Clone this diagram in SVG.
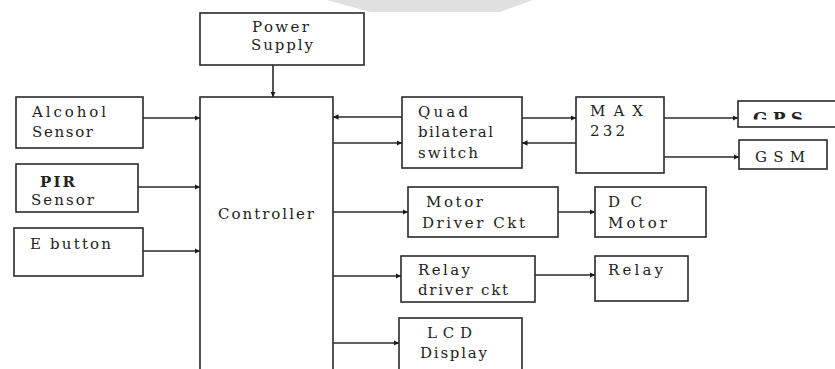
<svg xmlns="http://www.w3.org/2000/svg" width="835" height="369" viewBox="0 0 835 369">
<defs>
<style>
.box{fill:#fff;stroke:#2a2a2a;stroke-width:1.6}
.t{font-family:"DejaVu Serif","Liberation Serif",serif;font-size:15px;fill:#222}
.c line{stroke:#2a2a2a;stroke-width:1.6;marker-end:url(#ah)}
</style>
<marker id="ah" viewBox="0 0 10 10" refX="10" refY="5" markerWidth="5.5" markerHeight="5.5" markerUnits="userSpaceOnUse" orient="auto">
<path d="M0,0 L10,5 L0,10 z" fill="#1a1a1a"/>
</marker>
<clipPath id="gpsclip"><rect x="738" y="100" width="100" height="19.5"/></clipPath>
</defs>
<rect width="835" height="369" fill="#fff"/>
<path d="M327,0 L370,12 L500,12 L533,0 z" fill="#e0e0e0"/>

<g id="power"><rect class="box" x="200" y="13" width="164" height="52"/>
<text class="t" x="252" y="32" textLength="57">Power</text>
<text class="t" x="251" y="50" textLength="62">Supply</text></g>

<g id="alcohol"><rect class="box" x="16" y="97" width="127" height="51"/>
<text class="t" x="32" y="117" textLength="74">Alcohol</text>
<text class="t" x="32" y="137" textLength="61">Sensor</text></g>

<g id="pir"><rect class="box" x="16" y="164" width="122" height="48"/>
<text class="t" x="40" y="187" textLength="35" style="font-weight:bold">PIR</text>
<text class="t" x="31" y="205" textLength="63">Sensor</text></g>

<g id="ebutton"><rect class="box" x="14" y="228" width="129" height="48"/>
<text class="t" x="30" y="249" textLength="81">E button</text></g>

<g id="controller"><rect class="box" x="200" y="97" width="133" height="280"/>
<text class="t" x="218" y="219" textLength="96">Controller</text></g>

<g id="quad"><rect class="box" x="402" y="97" width="120" height="71"/>
<text class="t" x="418" y="117" textLength="50">Quad</text>
<text class="t" x="418" y="137" textLength="75">bilateral</text>
<text class="t" x="418" y="158" textLength="60">switch</text></g>

<g id="max232"><rect class="box" x="576" y="97" width="88" height="76"/>
<text class="t" x="590" y="116" textLength="53">MAX</text>
<text class="t" x="590" y="136" textLength="35">232</text></g>

<g id="gps"><rect class="box" x="738" y="101" width="110" height="26"/>
<text class="t" x="753" y="124" textLength="50" clip-path="url(#gpsclip)" style="font-size:17px;font-weight:bold">GPS</text></g>

<g id="gsm"><rect class="box" x="739" y="140" width="88" height="29"/>
<text class="t" x="755" y="162" textLength="50">GSM</text></g>

<g id="motordriver"><rect class="box" x="408" y="187" width="150" height="50"/>
<text class="t" x="426" y="207" textLength="57">Motor</text>
<text class="t" x="422" y="228" textLength="103">Driver Ckt</text></g>

<g id="dcmotor"><rect class="box" x="595" y="187" width="111" height="50"/>
<text class="t" x="608" y="207" textLength="34">DC</text>
<text class="t" x="608" y="228" textLength="59">Motor</text></g>

<g id="relaydriver"><rect class="box" x="401" y="256" width="134" height="46"/>
<text class="t" x="418" y="275" textLength="52">Relay</text>
<text class="t" x="418" y="295" textLength="90">driver ckt</text></g>

<g id="relay"><rect class="box" x="595" y="256" width="93" height="45"/>
<text class="t" x="608" y="275" textLength="55">Relay</text></g>

<g id="lcd"><rect class="box" x="399" y="318" width="123" height="60"/>
<text class="t" x="427" y="338" textLength="45">LCD</text>
<text class="t" x="420" y="358" textLength="67">Display</text></g>

<g id="connectors" class="c">
<line x1="273" y1="65" x2="273" y2="97"/>
<line x1="143" y1="118" x2="200" y2="118"/>
<line x1="138" y1="187" x2="200" y2="187"/>
<line x1="143" y1="251" x2="200" y2="251"/>
<line x1="402" y1="117" x2="333" y2="117"/>
<line x1="333" y1="143" x2="402" y2="143"/>
<line x1="522" y1="118" x2="576" y2="118"/>
<line x1="576" y1="143" x2="522" y2="143"/>
<line x1="664" y1="118" x2="738" y2="118"/>
<line x1="664" y1="157" x2="739" y2="157"/>
<line x1="333" y1="212" x2="408" y2="212"/>
<line x1="558" y1="212" x2="595" y2="212"/>
<line x1="333" y1="276" x2="401" y2="276"/>
<line x1="535" y1="275" x2="595" y2="275"/>
<line x1="333" y1="343" x2="399" y2="343"/>
</g>
</svg>
